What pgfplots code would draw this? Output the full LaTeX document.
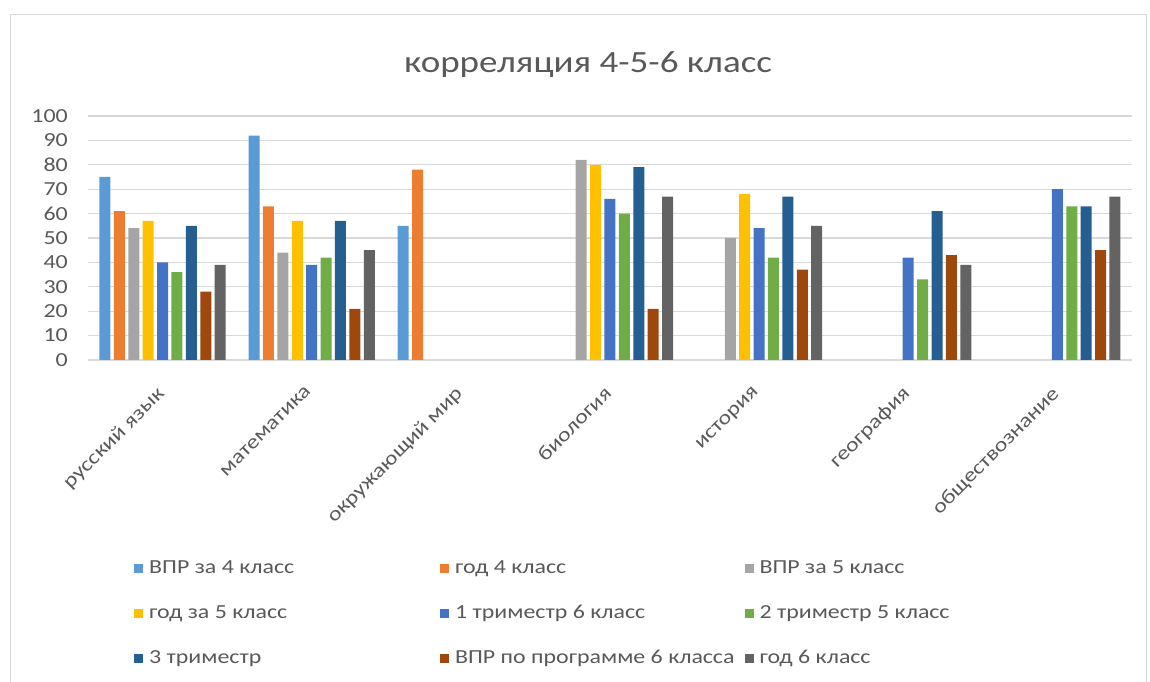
\documentclass[border=0pt]{standalone}
\usepackage{fontspec}
\setmainfont{Carlito}[FakeStretch=1.2]
\usepackage{pgfplots}
\pgfplotsset{compat=1.18}
\definecolor{c1}{HTML}{5B9BD5}
\definecolor{c2}{HTML}{ED7D31}
\definecolor{c3}{HTML}{A5A5A5}
\definecolor{c4}{HTML}{FFC000}
\definecolor{c5}{HTML}{4472C4}
\definecolor{c6}{HTML}{70AD47}
\definecolor{c7}{HTML}{255E91}
\definecolor{c8}{HTML}{9E480E}
\definecolor{c9}{HTML}{636363}
\definecolor{txt}{HTML}{595959}
\definecolor{gridc}{HTML}{D9D9D9}
\begin{document}
\begin{tikzpicture}
\path[use as bounding box] (0,0) rectangle (1150bp,682bp);
\draw[gridc, line width=1bp] (10bp,-2bp) -- (10bp,667bp) -- (1146bp,667bp) -- (1146bp,-2bp);
\begin{axis}[
    at={(88bp,322bp)}, anchor=south west,
    scale only axis, width=1044bp, height=244bp,
    ybar=3.4bp, bar width=11bp,
    xmin=-0.5, xmax=6.5, ymin=0, ymax=100,
    ytick={0,10,...,100},
    xtick={0,...,6},
    xticklabels={русский язык, математика, окружающий мир, биология, история, география, обществознание},
    ymajorgrids, grid style={gridc, line width=1.2bp},
    axis line style={draw=none},
    major tick length=0pt,
    tick label style={font=\fontsize{20}{24}\selectfont, text=txt},
    /pgf/number format/assume math mode=true,
    yticklabel style={inner sep=0pt, anchor=east, xshift=-20bp},
    xticklabel style={xshift=-7bp, yshift=-25bp, rotate=45, anchor=north east, inner sep=0pt},
    title={корреляция 4-5-6 класс},
    title style={font=\fontsize{31}{36}\selectfont, text=txt, at={(0.479,1.188)}, anchor=center},
    legend columns=3,
    legend image code/.code={\fill[#1] (0bp,-4.5bp) rectangle (9bp,4.5bp);},
    legend style={draw=none, fill=none, at={(0.044,-0.816)}, anchor=north west,
        font=\fontsize{20}{24}\selectfont, text=txt, inner sep=0pt,
        nodes={inner sep=0pt, text height=14bp, text depth=4bp},
        row sep=27bp,
        /tikz/column 1/.style={column sep=6bp},
        /tikz/column 2/.style={column sep=146bp},
        /tikz/column 3/.style={column sep=6bp},
        /tikz/column 4/.style={column sep=10bp},
        /tikz/column 5/.style={column sep=6bp}},
    legend cell align=left,
]
\addplot[fill=c1, draw=none] coordinates {(0,75) (1,92) (2,55)};
\addplot[fill=c2, draw=none] coordinates {(0,61) (1,63) (2,78)};
\addplot[fill=c3, draw=none] coordinates {(0,54) (1,44) (3,82) (4,50)};
\addplot[fill=c4, draw=none] coordinates {(0,57) (1,57) (3,80) (4,68)};
\addplot[fill=c5, draw=none] coordinates {(0,40) (1,39) (3,66) (4,54) (5,42) (6,70)};
\addplot[fill=c6, draw=none] coordinates {(0,36) (1,42) (3,60) (4,42) (5,33) (6,63)};
\addplot[fill=c7, draw=none] coordinates {(0,55) (1,57) (3,79) (4,67) (5,61) (6,63)};
\addplot[fill=c8, draw=none] coordinates {(0,28) (1,21) (3,21) (4,37) (5,43) (6,45)};
\addplot[fill=c9, draw=none] coordinates {(0,39) (1,45) (3,67) (4,55) (5,39) (6,67)};
\legend{ВПР за 4 класс, год 4 класс, ВПР за 5 класс, год за 5 класс, 1 триместр 6 класс, 2 триместр 5 класс, 3 триместр, ВПР по программе 6 класса, год 6 класс}
\end{axis}
\end{tikzpicture}
\end{document}
